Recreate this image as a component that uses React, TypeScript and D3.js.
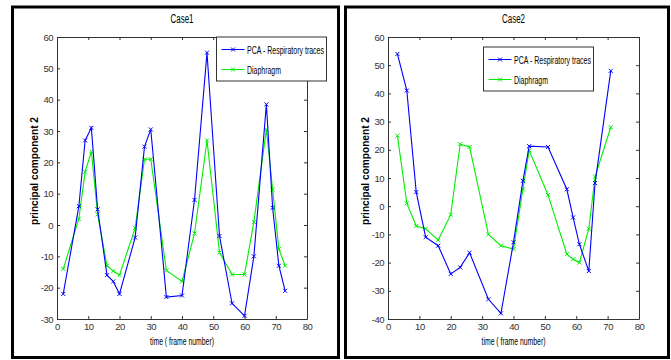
import React, { useEffect, useRef } from 'react';
import { select, scaleLinear, line, axisBottom, axisLeft, axisTop, axisRight, range } from 'd3';

// Case 1 (frame numbers and principal component 2 values)
const case1Time = [2, 7, 9, 11, 13, 16, 18, 20, 25, 28, 30, 35, 40, 44, 48, 52, 56, 60, 63, 67, 69, 71, 73];
const case1Pca = [-22, 6, 27, 31, 5, -16, -18, -22, -4, 25, 30.5, -23, -22.5, 8, 55, -3.5, -25, -29, -10, 38.5, 5.5, -13, -21];
const case1Diaphragm = [-14, 2, 17, 23.4, 3.4, -13, -14.7, -16, -1, 21, 21, -14.5, -18, -2.7, 27, -8.8, -15.8, -15.8, 1, 30.5, 11.3, -7.7, -13];

// Case 2
const case2Time = [3, 6, 9, 12, 16, 20, 23, 26, 32, 36, 40, 43, 45, 51, 57, 59, 61, 64, 66, 71];
const case2Pca = [54, 41, 5, -11, -14, -24, -21.7, -16.5, -33, -38, -12.8, 9, 21.3, 21, 6, -4, -13.5, -23, 8.2, 48];
const case2Diaphragm = [25, 1, -7, -8, -12, -3, 22, 21, -10, -14, -15.2, 6, 19.8, 4, -17, -18.8, -20, -8, 10.5, 28];

const seriesNames = ['PCA - Respiratory traces', 'Diaphragm'];
const xTicks = range(0, 81, 10);

const panels = [
  {
    title: 'Case1', time: case1Time, pca: case1Pca, dia: case1Diaphragm, yDomain: [-30, 60],
    frame: [12.5, 7, 326, 350.5], plot: [57, 307, 37, 319], legend: [216.5, 37],
  },
  {
    title: 'Case2', time: case2Time, pca: case2Pca, dia: case2Diaphragm, yDomain: [-40, 60],
    frame: [345.5, 7, 323, 350.5], plot: [388, 639, 37, 319], legend: [483.5, 47],
  },
];

const font = 'Liberation Sans, Arial, sans-serif';
const blue = '#0000ff';
const green = '#00ee00';

function App() {
  const svgRef = useRef(null);

  useEffect(() => {
    const svg = select(svgRef.current);
    svg.selectAll('*').remove();

    panels.forEach((p) => {
      const [x0, x1, y0, y1] = p.plot;
      const g = svg.append('g');

      g.append('rect')
        .attr('x', p.frame[0]).attr('y', p.frame[1])
        .attr('width', p.frame[2]).attr('height', p.frame[3])
        .attr('fill', 'white').attr('stroke', 'black').attr('stroke-width', 3);

      const x = scaleLinear().domain([0, 80]).range([x0, x1]);
      const y = scaleLinear().domain(p.yDomain).range([y1, y0]);
      const yTicks = range(p.yDomain[0], p.yDomain[1] + 1, 10);

      const styleAxis = (sel) => {
        sel.select('.domain').attr('stroke', '#333');
        sel.selectAll('.tick line').attr('stroke', '#333');
        sel.selectAll('.tick text').attr('fill', '#333').attr('font-size', 9.5)
          .attr('font-family', font).attr('letter-spacing', -0.5);
      };

      g.append('g').attr('transform', `translate(0,${y1})`)
        .call(axisBottom(x).tickValues(xTicks).tickSizeInner(-3).tickSizeOuter(0).tickPadding(4)
          .tickFormat((d) => String(d)))
        .call(styleAxis);
      g.append('g').attr('transform', `translate(${x0},0)`)
        .call(axisLeft(y).tickValues(yTicks).tickSizeInner(-3).tickSizeOuter(0).tickPadding(4)
          .tickFormat((d) => String(d)))
        .call(styleAxis);
      g.append('g').attr('transform', `translate(0,${y0})`)
        .call(axisTop(x).tickValues(xTicks).tickSizeInner(-3).tickSizeOuter(0).tickFormat(() => ''))
        .call(styleAxis);
      g.append('g').attr('transform', `translate(${x1},0)`)
        .call(axisRight(y).tickValues(yTicks).tickSizeInner(-3).tickSizeOuter(0).tickFormat(() => ''))
        .call(styleAxis);

      const series = [
        { values: p.dia, color: green },
        { values: p.pca, color: blue },
      ];
      series.forEach((s) => {
        const pts = p.time.map((t, i) => [x(t), y(s.values[i])]);
        g.append('path').attr('d', line()(pts))
          .attr('fill', 'none').attr('stroke', s.color).attr('stroke-width', 1.1);
        g.selectAll(null).data(pts).join('path')
          .attr('transform', (d) => `translate(${d[0]},${d[1]})`)
          .attr('d', 'M-2,-2L2,2M-2,2L2,-2')
          .attr('stroke', s.color).attr('stroke-width', 1);
      });

      // title and axis labels
      const cx = (x0 + x1) / 2;
      g.append('text').attr('x', cx).attr('y', 23).attr('text-anchor', 'middle')
        .attr('font-family', font).attr('font-size', 12.5)
        .attr('textLength', 23).attr('lengthAdjust', 'spacingAndGlyphs').text(p.title);
      g.append('text').attr('x', cx).attr('y', 345).attr('text-anchor', 'middle')
        .attr('font-family', font).attr('font-size', 11)
        .attr('textLength', 64).attr('lengthAdjust', 'spacingAndGlyphs').text('time ( frame number)');
      g.append('text')
        .attr('transform', `translate(${x0 - 19},171) rotate(-90)`)
        .attr('text-anchor', 'middle').attr('font-family', font).attr('font-size', 11)
        .attr('font-weight', 'bold')
        .attr('textLength', 108).attr('lengthAdjust', 'spacingAndGlyphs').text('principal component 2');

      // legend
      const [lx, ly] = p.legend;
      const lg = g.append('g').attr('transform', `translate(${lx},${ly})`);
      lg.append('rect').attr('width', 110).attr('height', 44)
        .attr('fill', 'white').attr('stroke', '#333').attr('stroke-width', 1);
      [blue, green].forEach((c, i) => {
        const ry = 12.5 + i * 20;
        lg.append('line').attr('x1', 5).attr('x2', 28).attr('y1', ry).attr('y2', ry)
          .attr('stroke', c).attr('stroke-width', 1);
        lg.append('path').attr('transform', `translate(16.5,${ry})`)
          .attr('d', 'M-2,-2L2,2M-2,2L2,-2').attr('stroke', c);
        lg.append('text').attr('x', 30.5).attr('y', ry + 4)
          .attr('font-family', font).attr('font-size', 11)
          .attr('textLength', i === 0 ? 77 : 34).attr('lengthAdjust', 'spacingAndGlyphs')
          .text(seriesNames[i]);
      });
    });
  }, []);

  return (
    <svg ref={svgRef} width={671} height={360}
      style={{ position: 'absolute', left: 0, top: 0, background: 'white' }} />
  );
}

export default App;
